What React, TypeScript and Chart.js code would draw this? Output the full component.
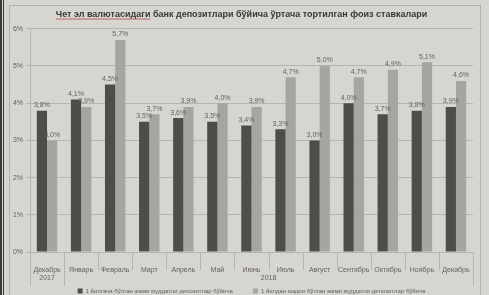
import React, { useEffect, useRef } from 'react';
import { Chart, registerables } from 'chart.js';

Chart.register(...registerables);

const TITLE = 'Чет эл валютасидаги банк депозитлари бўйича ўртача тортилган фоиз ставкалари';
const TITLE_UNDERLINED = 'Чет эл валютасидаги';
const MONTHS = ['Декабрь', 'Январь', 'Февраль', 'Март', 'Апрель', 'Май', 'Июнь', 'Июль', 'Август', 'Сентябрь', 'Октябрь', 'Ноябрь', 'Декабрь'];
const YEARS = ['2017', '2018'];
const YEAR_START = [0, 1];
const YEAR_END = [0, 12];
const SERIES1_LABEL = '1 йилгача бўлган жами муддатли депозитлар бўйича';
const SERIES2_LABEL = '1 йилдан юқори бўлган жами муддатли депозитлар бўйича';
const SERIES1 = [3.8, 4.1, 4.5, 3.5, 3.6, 3.5, 3.4, 3.3, 3.0, 4.0, 3.7, 3.8, 3.9];
const SERIES2 = [3.0, 3.9, 5.7, 3.7, 3.9, 4.0, 3.9, 4.7, 5.0, 4.7, 4.9, 5.1, 4.6];
const Y_TICKS = [0, 1, 2, 3, 4, 5, 6];

const FONT = "'Liberation Sans', Arial, sans-serif";
const BG = '#d7d5d0';
const DARK = '#4f4d49';
const LIGHT = '#a7a5a0';
const GRID = '#b7b5b0';
const TEXT = '#64625e';

const fmt = (v: number) => v.toFixed(1).replace('.', ',') + '%';

const paperPlugin = {
  id: 'paper',
  beforeDraw(chart: any) {
    const { ctx, width, height } = chart;
    ctx.save();
    ctx.fillStyle = BG;
    ctx.fillRect(0, 0, width, height);
    ctx.fillStyle = '#3d3b38';
    ctx.fillRect(0, 0, 2, height);
    ctx.fillRect(3, 0, 1, height);
    ctx.strokeStyle = '#b3b1ac';
    ctx.lineWidth = 1;
    ctx.strokeRect(9.5, 5.5, 471, height + 10);
    ctx.restore();
  },
};

const labelsPlugin = {
  id: 'valueLabels',
  afterDatasetsDraw(chart: any) {
    const { ctx } = chart;
    ctx.save();
    ctx.font = `7px ${FONT}`;
    ctx.fillStyle = TEXT;
    ctx.textAlign = 'center';
    ctx.textBaseline = 'bottom';
    chart.data.datasets.forEach((ds: any, di: number) => {
      const meta = chart.getDatasetMeta(di);
      meta.data.forEach((bar: any, i: number) => {
        ctx.fillText(fmt(ds.data[i]), bar.x, bar.y - 2);
      });
    });
    ctx.restore();
  },
};

const axisPlugin = {
  id: 'multiAxis',
  afterDraw(chart: any) {
    const { ctx, chartArea } = chart;
    const xs = chart.scales.x;
    const n = MONTHS.length;
    const bottom = chartArea.bottom;
    const bounds: number[] = [];
    for (let i = 0; i <= n; i++) {
      if (i === 0) bounds.push(chartArea.left);
      else if (i === n) bounds.push(chartArea.right);
      else bounds.push((xs.getPixelForValue(i - 1) + xs.getPixelForValue(i)) / 2);
    }
    ctx.save();
    ctx.strokeStyle = GRID;
    ctx.lineWidth = 1;
    const groupEdges = new Set<number>();
    YEAR_START.forEach((s) => groupEdges.add(s));
    YEAR_END.forEach((e) => groupEdges.add(e + 1));
    bounds.forEach((bx, i) => {
      const len = groupEdges.has(i) ? 34 : 18;
      const x = Math.round(bx) + 0.5;
      ctx.beginPath();
      ctx.moveTo(x, bottom);
      ctx.lineTo(x, bottom + len);
      ctx.stroke();
    });
    // year labels
    ctx.font = `7px ${FONT}`;
    ctx.fillStyle = TEXT;
    ctx.textAlign = 'center';
    ctx.textBaseline = 'middle';
    YEARS.forEach((y, k) => {
      const cx = (bounds[YEAR_START[k]] + bounds[YEAR_END[k] + 1]) / 2;
      ctx.fillText(y, cx, bottom + 26);
    });
    // legend
    ctx.font = `6px ${FONT}`;
    ctx.textBaseline = 'middle';
    ctx.textAlign = 'left';
    const ds = chart.data.datasets;
    const box = 5;
    const gap = 20;
    const widths = ds.map((d: any) => box + 3 + ctx.measureText(d.label).width);
    const total = widths.reduce((a: number, b: number) => a + b, 0) + gap * (ds.length - 1);
    let x = (chartArea.left + chartArea.right) / 2 - total / 2;
    const ly = 291;
    ds.forEach((d: any, i: number) => {
      ctx.fillStyle = d.backgroundColor;
      ctx.fillRect(x, ly - box / 2, box, box);
      ctx.fillStyle = TEXT;
      ctx.fillText(d.label, x + box + 3, ly);
      x += widths[i] + gap;
    });
    // title spell-check underline
    const t = chart.titleBlock;
    if (t) {
      ctx.font = `bold 9px ${FONT}`;
      const full = ctx.measureText(TITLE).width;
      const part = ctx.measureText(TITLE_UNDERLINED).width;
      const sx = (t.left + t.right) / 2 - full / 2;
      const uy = t.top + 9 + 10;
      ctx.strokeStyle = '#b0494a';
      ctx.lineWidth = 0.8;
      ctx.beginPath();
      ctx.moveTo(sx, uy);
      ctx.lineTo(sx + part, uy);
      ctx.stroke();
    }
    ctx.restore();
  },
};

export default function App() {
  const ref = useRef<HTMLCanvasElement | null>(null);
  useEffect(() => {
    if (!ref.current) return;
    const chart = new Chart(ref.current, {
      type: 'bar',
      data: {
        labels: MONTHS,
        datasets: [
          { label: SERIES1_LABEL, data: SERIES1, backgroundColor: DARK, categoryPercentage: 0.6, barPercentage: 1.0 },
          { label: SERIES2_LABEL, data: SERIES2, backgroundColor: LIGHT, categoryPercentage: 0.6, barPercentage: 1.0 },
        ],
      },
      options: {
        responsive: false,
        animation: false,
        devicePixelRatio: 1,
        layout: { padding: { left: 10, right: 16, top: 0, bottom: 13 } },
        plugins: {
          legend: { display: false },
          tooltip: { enabled: false },
          title: {
            display: true,
            text: TITLE,
            color: '#3a3835',
            font: { size: 9, weight: 'bold', family: FONT },
            padding: { top: 9, bottom: 9 },
          },
        },
        scales: {
          x: {
            grid: { display: false },
            border: { display: false },
            ticks: { font: { size: 7, family: FONT }, color: TEXT, padding: 6, maxRotation: 0, autoSkip: false },
            afterFit: (s: any) => { s.height = 30; },
          },
          y: {
            min: 0,
            max: 6,
            afterBuildTicks: (s: any) => { s.ticks = Y_TICKS.map((v) => ({ value: v })); },
            ticks: { font: { size: 7, family: FONT }, color: TEXT, padding: 3, callback: (v: any) => v + '%' },
            grid: { color: GRID, tickLength: 4 },
            border: { display: true, color: GRID },
            afterFit: (s: any) => { s.width = 20; },
          },
        },
      },
      plugins: [paperPlugin, labelsPlugin, axisPlugin],
    } as any);
    return () => chart.destroy();
  }, []);
  return (
    <div style={{ position: 'fixed', left: 0, top: 0, width: 489, height: 295, background: BG }}>
      <canvas ref={ref} width={489} height={295} style={{ display: 'block' }} />
    </div>
  );
}
